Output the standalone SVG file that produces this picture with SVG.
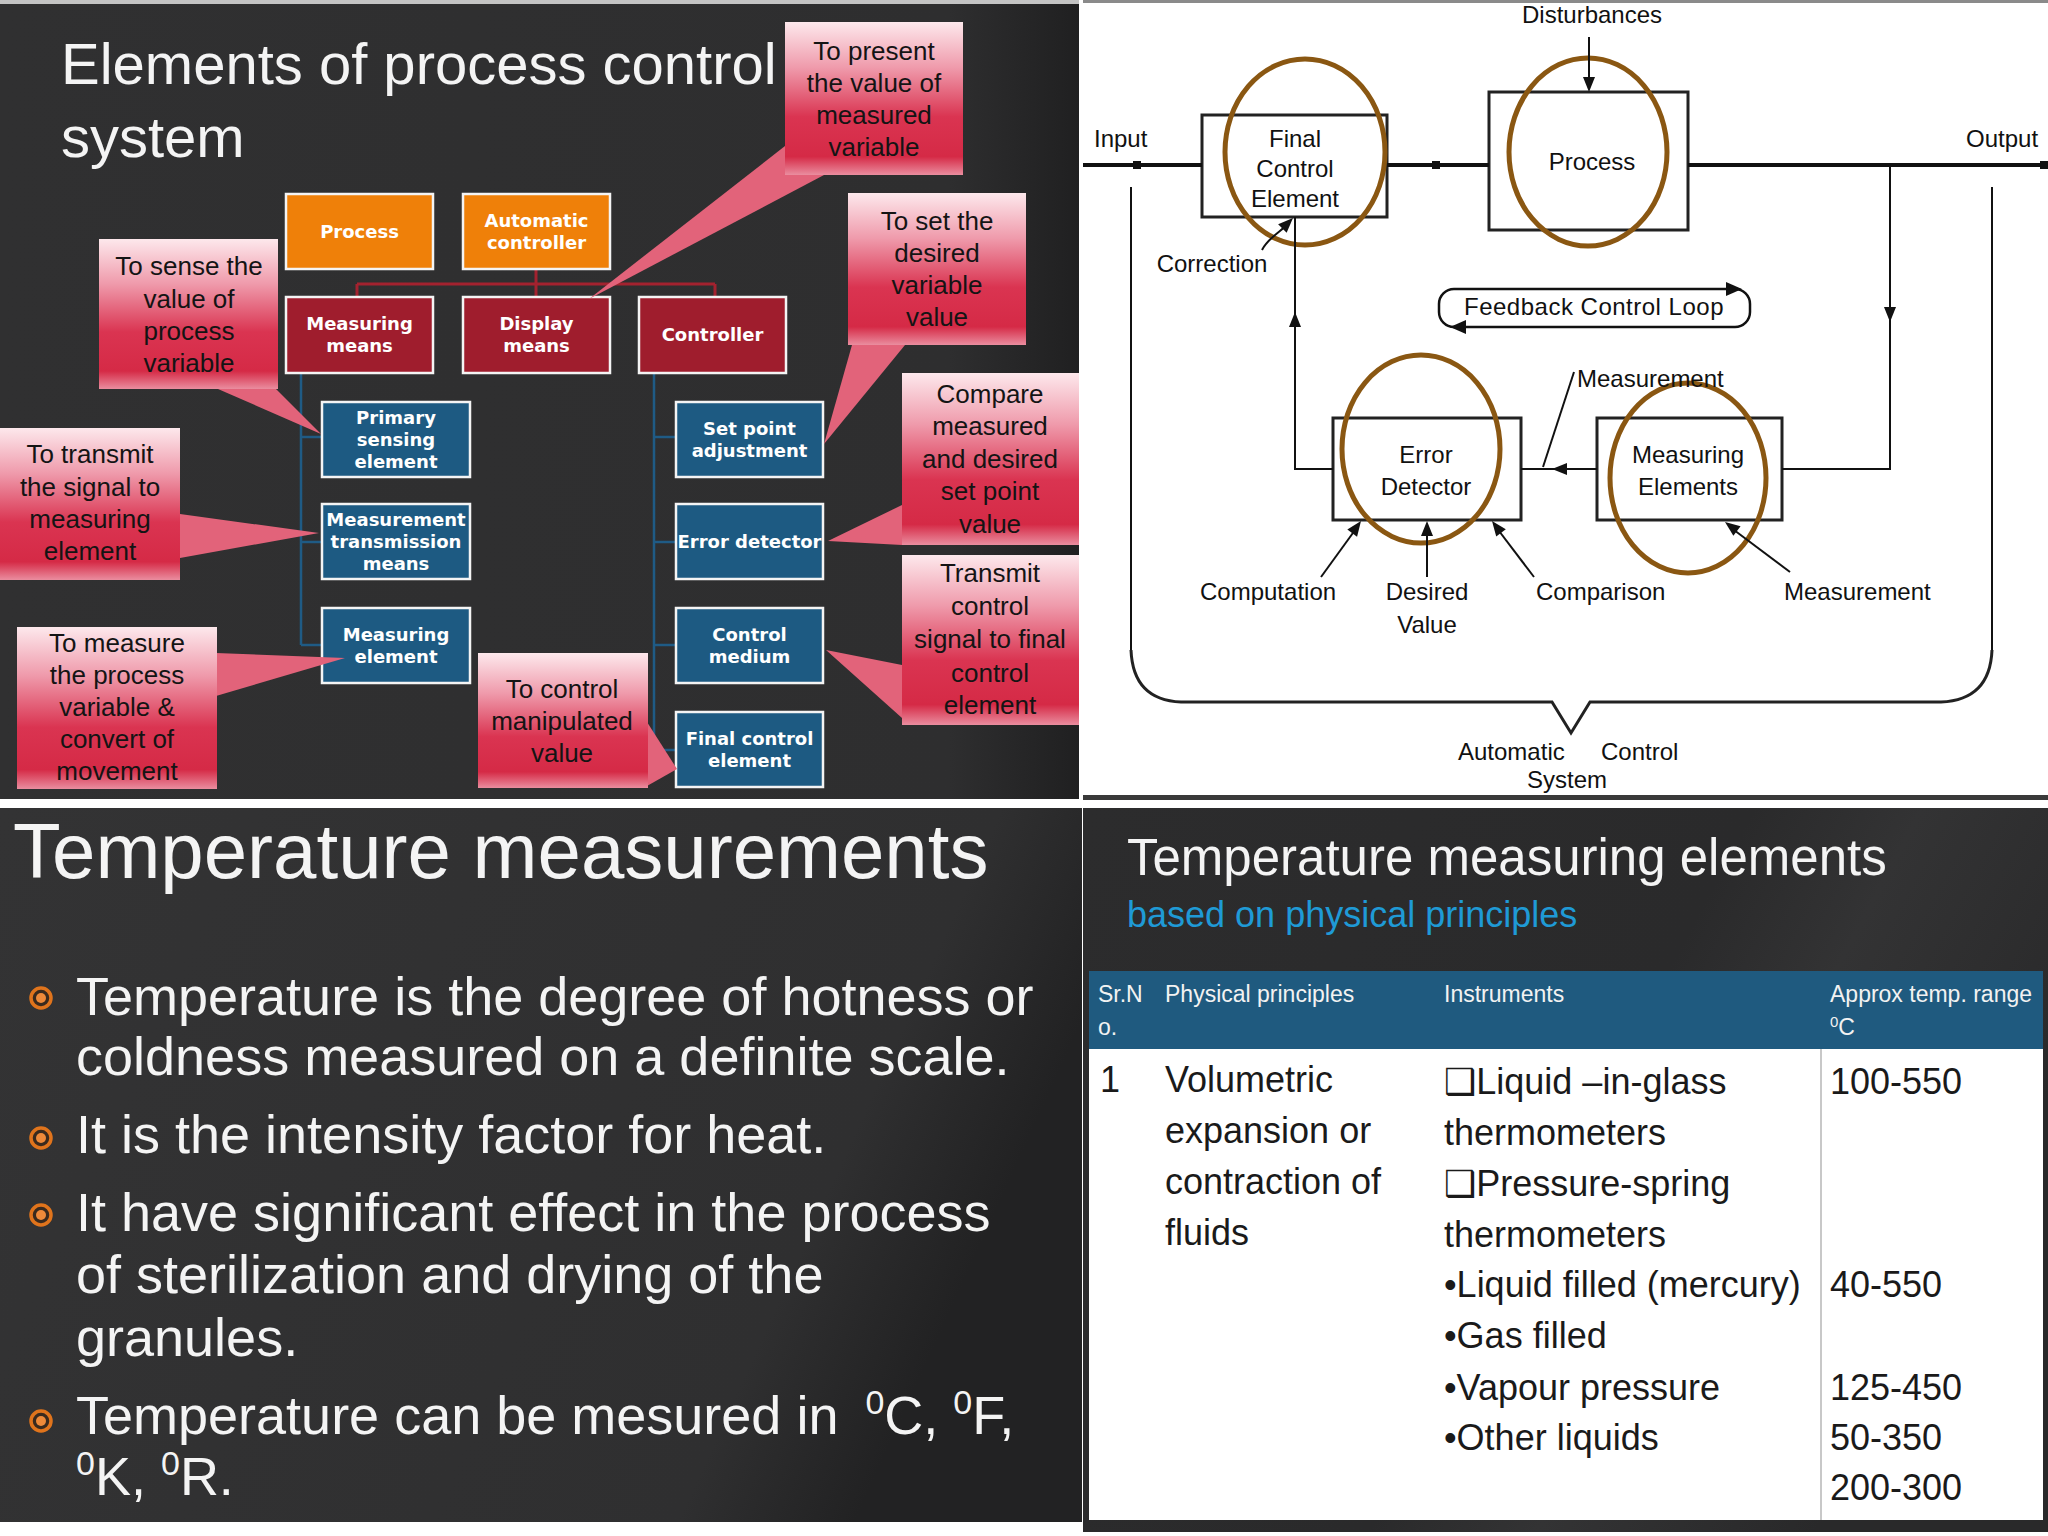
<svg xmlns="http://www.w3.org/2000/svg" xmlns:xlink="http://www.w3.org/1999/xlink" width="2048" height="1536" viewBox="0 0 2048 1536">
<defs>
<linearGradient id="tlbg" x1="0" y1="0" x2="1" y2="0">
<stop offset="0" stop-color="#303031"/><stop offset="0.88" stop-color="#2e2e2f"/><stop offset="1" stop-color="#202021"/>
</linearGradient>
<linearGradient id="blbg" x1="0" y1="0" x2="1" y2="0.3">
<stop offset="0" stop-color="#333334"/><stop offset="0.85" stop-color="#2f2f30"/><stop offset="1" stop-color="#222223"/>
</linearGradient>
<linearGradient id="brbg" x1="0" y1="0" x2="1" y2="0.4">
<stop offset="0" stop-color="#2c2c2d"/><stop offset="0.6" stop-color="#2a2a2b"/><stop offset="0.75" stop-color="#333334"/><stop offset="1" stop-color="#29292a"/>
</linearGradient>
<linearGradient id="cg" x1="0" y1="0" x2="0" y2="1">
<stop offset="0" stop-color="#fde8ec"/><stop offset="0.3" stop-color="#ef9aab"/><stop offset="0.62" stop-color="#da3451"/><stop offset="0.88" stop-color="#d52a46"/><stop offset="1" stop-color="#ea8d9f"/>
</linearGradient>
<path id="ah" d="M0,0 L-6,15 L6,15 Z" fill="#111"/>
<style>
.title{font-family:"Liberation Sans",Arial,sans-serif;fill:#f4f4f4}
.co{fill:url(#cg)}
.wedge{fill:#e2637a}
.cot{font-family:"Liberation Sans",Arial,sans-serif;font-size:26px;fill:#141414;text-anchor:middle}
.orange{fill:#ef8009;stroke:#f4f4f4;stroke-width:2.5}
.red{fill:#9f1d2d;stroke:#f4f4f4;stroke-width:2.5}
.blue{fill:#1d5a82;stroke:#f4f4f4;stroke-width:2.5}
.bt{font-family:"DejaVu Sans",Verdana,sans-serif;font-weight:bold;font-size:18px;fill:#ffffff;text-anchor:middle}
.rl{stroke:#a3222f;stroke-width:3;fill:none}
.bl{stroke:#1f5b85;stroke-width:2.5;fill:none}
.dbox{fill:none;stroke:#222;stroke-width:3}
.ell{fill:none;stroke:#8a5712;stroke-width:5}
.dl{stroke:#111;stroke-width:2;fill:none}
.ml{stroke:#111;stroke-width:4;fill:none}
.dt{font-family:"Liberation Sans",Arial,sans-serif;font-size:24px;fill:#111}
.mid{text-anchor:middle}
.bul{font-family:"Liberation Sans",Arial,sans-serif;font-size:54px;fill:#f4f4f4}
.th{font-family:"Liberation Sans",Arial,sans-serif;font-size:23px;fill:#f2f2f2}
.tb{font-family:"Liberation Sans","DejaVu Sans",Arial,sans-serif;font-size:36px;fill:#1a1a1a}
</style>
</defs>

<!-- page background -->
<rect x="0" y="0" width="2048" height="1536" fill="#ffffff"/>

<!-- ============ Panel 1: Elements of process control system ============ -->
<g id="panel-elements">
<rect x="0" y="0" width="1079" height="799" fill="url(#tlbg)"/>
<rect x="0" y="0" width="1079" height="4" fill="#c4c4c4"/>
<text class="title" x="61" y="84" font-size="58">Elements of process control</text>
<text class="title" x="61" y="157" font-size="58">system</text>
</g>

<g id="connectors-tree">
<line class="rl" x1="536" y1="269" x2="536" y2="297"/>
<line class="rl" x1="357" y1="284" x2="715" y2="284"/>
<line class="rl" x1="357" y1="284" x2="357" y2="297"/>
<line class="rl" x1="715" y1="284" x2="715" y2="297"/>
<line class="bl" x1="301" y1="373" x2="301" y2="645"/>
<line class="bl" x1="301" y1="437" x2="322" y2="437"/>
<line class="bl" x1="301" y1="542" x2="322" y2="542"/>
<line class="bl" x1="301" y1="645" x2="322" y2="645"/>
<line class="bl" x1="654" y1="373" x2="654" y2="750"/>
<line class="bl" x1="654" y1="437" x2="676" y2="437"/>
<line class="bl" x1="654" y1="542" x2="676" y2="542"/>
<line class="bl" x1="654" y1="645" x2="676" y2="645"/>
<line class="bl" x1="654" y1="750" x2="676" y2="750"/>
</g>

<g id="node-process"><rect class="orange" x="286" y="194" width="147" height="75"/><text class="bt" x="359.5" y="238">Process</text></g>
<g id="node-automatic-controller"><rect class="orange" x="463" y="194" width="147" height="75"/><text class="bt" x="536.5" y="227">Automatic</text><text class="bt" x="536.5" y="249">controller</text></g>
<g id="node-measuring-means"><rect class="red" x="286" y="297" width="147" height="76"/><text class="bt" x="359.5" y="330">Measuring</text><text class="bt" x="359.5" y="352">means</text></g>
<g id="node-display-means"><rect class="red" x="463" y="297" width="147" height="76"/><text class="bt" x="536.5" y="330">Display</text><text class="bt" x="536.5" y="352">means</text></g>
<g id="node-controller"><rect class="red" x="639" y="297" width="147" height="76"/><text class="bt" x="712.5" y="341">Controller</text></g>
<g id="node-primary-sensing"><rect class="blue" x="322" y="402" width="148" height="75"/><text class="bt" x="396" y="424">Primary</text><text class="bt" x="396" y="446">sensing</text><text class="bt" x="396" y="468">element</text></g>
<g id="node-measurement-transmission"><rect class="blue" x="322" y="504" width="148" height="75"/><text class="bt" x="396" y="526">Measurement</text><text class="bt" x="396" y="548">transmission</text><text class="bt" x="396" y="570">means</text></g>
<g id="node-measuring-element"><rect class="blue" x="322" y="608" width="148" height="75"/><text class="bt" x="396" y="641">Measuring</text><text class="bt" x="396" y="663">element</text></g>
<g id="node-set-point"><rect class="blue" x="676" y="402" width="147" height="75"/><text class="bt" x="749.5" y="435">Set point</text><text class="bt" x="749.5" y="457">adjustment</text></g>
<g id="node-error-detector"><rect class="blue" x="676" y="504" width="147" height="75"/><text class="bt" x="749.5" y="548">Error detector</text></g>
<g id="node-control-medium"><rect class="blue" x="676" y="608" width="147" height="75"/><text class="bt" x="749.5" y="641">Control</text><text class="bt" x="749.5" y="663">medium</text></g>
<g id="node-final-control-element"><rect class="blue" x="676" y="712" width="147" height="75"/><text class="bt" x="749.5" y="745">Final control</text><text class="bt" x="749.5" y="767">element</text></g>

<!-- callouts -->
<g id="callout-present">
<polygon class="wedge" points="785,146 824,175 589,299"/>
<rect class="co" x="785" y="22" width="178" height="153"/>
<text class="cot"><tspan x="874" y="60">To present</tspan><tspan x="874" y="92">the value of</tspan><tspan x="874" y="124">measured</tspan><tspan x="874" y="156">variable</tspan></text>
</g>
<g id="callout-set">
<polygon class="wedge" points="852,345 905,345 824,444"/>
<rect class="co" x="848" y="193" width="178" height="152"/>
<text class="cot"><tspan x="937" y="230">To set the</tspan><tspan x="937" y="262">desired</tspan><tspan x="937" y="294">variable</tspan><tspan x="937" y="326">value</tspan></text>
</g>
<g id="callout-compare">
<polygon class="wedge" points="902,505 902,545 828,541"/>
<rect class="co" x="902" y="373" width="177" height="172"/>
<text class="cot"><tspan x="990" y="403">Compare</tspan><tspan x="990" y="435">measured</tspan><tspan x="990" y="468">and desired</tspan><tspan x="990" y="500">set point</tspan><tspan x="990" y="533">value</tspan></text>
</g>
<g id="callout-transmit-control">
<polygon class="wedge" points="902,665 902,718 826,650"/>
<rect class="co" x="902" y="555" width="177" height="170"/>
<text class="cot"><tspan x="990" y="582">Transmit</tspan><tspan x="990" y="615">control</tspan><tspan x="990" y="648">signal to final</tspan><tspan x="990" y="682">control</tspan><tspan x="990" y="714">element</tspan></text>
</g>
<g id="callout-control-manipulated">
<polygon class="wedge" points="647,722 647,786 677,769"/>
<rect class="co" x="478" y="653" width="170" height="135"/>
<text class="cot"><tspan x="562" y="698">To control</tspan><tspan x="562" y="730">manipulated</tspan><tspan x="562" y="762">value</tspan></text>
</g>
<g id="callout-sense">
<polygon class="wedge" points="218,389 276,389 321,434"/>
<rect class="co" x="99" y="239" width="179" height="150"/>
<text class="cot"><tspan x="189" y="275">To sense the</tspan><tspan x="189" y="308">value of</tspan><tspan x="189" y="340">process</tspan><tspan x="189" y="372">variable</tspan></text>
</g>
<g id="callout-transmit-signal">
<polygon class="wedge" points="180,514 180,558 319,533"/>
<rect class="co" x="0" y="428" width="180" height="152"/>
<text class="cot"><tspan x="90" y="463">To transmit</tspan><tspan x="90" y="496">the signal to</tspan><tspan x="90" y="528">measuring</tspan><tspan x="90" y="560">element</tspan></text>
</g>
<g id="callout-measure">
<polygon class="wedge" points="216,653 216,696 345,658"/>
<rect class="co" x="17" y="627" width="200" height="162"/>
<text class="cot"><tspan x="117" y="652">To measure</tspan><tspan x="117" y="684">the process</tspan><tspan x="117" y="716">variable &amp;</tspan><tspan x="117" y="748">convert of</tspan><tspan x="117" y="780">movement</tspan></text>
</g>

<!-- ============ Panel 2: feedback control loop diagram ============ -->
<g id="panel-loop">
<rect x="1083" y="0" width="965" height="797" fill="#ffffff"/>
<rect x="1083" y="0" width="965" height="3" fill="#8a8a8a"/>
<rect x="1083" y="795" width="965" height="5" fill="#3a3a3a"/>
</g>

<g id="node-final-control">
<rect class="dbox" x="1202" y="115" width="185" height="102"/>
<text class="dt mid" x="1295" y="147">Final</text>
<text class="dt mid" x="1295" y="177">Control</text>
<text class="dt mid" x="1295" y="207">Element</text>
<ellipse class="ell" cx="1305" cy="152" rx="80" ry="93"/>
</g>
<g id="node-process-block">
<rect class="dbox" x="1489" y="92" width="199" height="138"/>
<text class="dt mid" x="1592" y="170">Process</text>
<ellipse class="ell" cx="1588" cy="152" rx="79" ry="94"/>
</g>
<g id="node-error-detector-block">
<rect class="dbox" x="1333" y="418" width="188" height="102"/>
<text class="dt mid" x="1426" y="463">Error</text>
<text class="dt mid" x="1426" y="495">Detector</text>
<ellipse class="ell" cx="1421" cy="449" rx="79" ry="94"/>
</g>
<g id="node-measuring-elements-block">
<rect class="dbox" x="1597" y="418" width="185" height="102"/>
<text class="dt mid" x="1688" y="463">Measuring</text>
<text class="dt mid" x="1688" y="495">Elements</text>
<ellipse class="ell" cx="1688" cy="478" rx="78" ry="95"/>
</g>
<g id="node-feedback-loop-label">
<rect x="1439" y="289" width="311" height="38" rx="15" fill="none" stroke="#111" stroke-width="2.5"/>
<polygon points="1742,289 1726,282 1726,296" fill="#111"/>
<polygon points="1450,327 1466,320 1466,334" fill="#111"/>
<text class="dt mid" x="1594" y="315" letter-spacing="0.5">Feedback Control Loop</text>
</g>

<g id="connectors-loop">
<line class="ml" x1="1083" y1="165" x2="1202" y2="165"/>
<line class="ml" x1="1387" y1="165" x2="1489" y2="165"/>
<line class="ml" x1="1688" y1="165" x2="2048" y2="165"/>
<rect x="1133" y="161" width="8" height="8" fill="#111"/>
<rect x="1432" y="161" width="8" height="8" fill="#111"/>
<rect x="2040" y="161" width="8" height="8" fill="#111"/>
<line class="dl" x1="1589" y1="37" x2="1589" y2="80"/>
<use xlink:href="#ah" transform="translate(1589,92) rotate(180)"/>
<polyline class="dl" points="1295,217 1295,469 1333,469"/>
<use xlink:href="#ah" transform="translate(1295,312)"/>
<polyline class="dl" points="1890,165 1890,469 1782,469"/>
<use xlink:href="#ah" transform="translate(1890,322) rotate(180)"/>
<line class="dl" x1="1597" y1="469" x2="1521" y2="469"/>
<use xlink:href="#ah" transform="translate(1552,469) rotate(-90)"/>
<line class="dl" x1="1574" y1="372" x2="1543" y2="467"/>
<path class="dl" d="M1262,250 C1268,238 1280,232 1288,224"/>
<use xlink:href="#ah" transform="translate(1293,218) rotate(45)"/>
<line class="dl" x1="1321" y1="577" x2="1358" y2="526"/>
<use xlink:href="#ah" transform="translate(1361,521) rotate(36)"/>
<line class="dl" x1="1427" y1="577" x2="1427" y2="528"/>
<use xlink:href="#ah" transform="translate(1427,521)"/>
<line class="dl" x1="1534" y1="577" x2="1496" y2="527"/>
<use xlink:href="#ah" transform="translate(1492,521) rotate(-37)"/>
<line class="dl" x1="1790" y1="572" x2="1730" y2="527"/>
<use xlink:href="#ah" transform="translate(1725,522) rotate(-53)"/>
<line class="dl" x1="1131" y1="187" x2="1131" y2="650"/>
<line class="dl" x1="1992" y1="187" x2="1992" y2="650"/>
<path d="M1131,650 Q1133,700 1181,702 L1552,702 L1571,733 L1590,702 L1941,702 Q1990,700 1992,650" fill="none" stroke="#222" stroke-width="3"/>
</g>

<g id="loop-labels">
<text class="dt mid" x="1592" y="23">Disturbances</text>
<text class="dt" x="1094" y="147">Input</text>
<text class="dt" x="1966" y="147">Output</text>
<text class="dt mid" x="1212" y="272">Correction</text>
<text class="dt" x="1577" y="387">Measurement</text>
<text class="dt" x="1200" y="600">Computation</text>
<text class="dt mid" x="1427" y="600">Desired</text>
<text class="dt mid" x="1427" y="633">Value</text>
<text class="dt" x="1536" y="600">Comparison</text>
<text class="dt" x="1784" y="600">Measurement</text>
<text class="dt"><tspan x="1458" y="760">Automatic</tspan><tspan x="1601" y="760">Control</tspan></text>
<text class="dt mid" x="1567" y="788">System</text>
</g>

<!-- ============ Panel 3: Temperature measurements ============ -->
<g id="panel-temperature">
<rect x="0" y="808" width="1082" height="714" fill="url(#blbg)"/>
<text class="title" x="13" y="878" font-size="78">Temperature measurements</text>
<g id="bullets">
<circle cx="41" cy="998" r="10" fill="#3a2a1e" stroke="#e0741c" stroke-width="3.5"/><circle cx="41" cy="998" r="5" fill="#ee8a3a"/>
<circle cx="41" cy="1138" r="10" fill="#3a2a1e" stroke="#e0741c" stroke-width="3.5"/><circle cx="41" cy="1138" r="5" fill="#ee8a3a"/>
<circle cx="41" cy="1215" r="10" fill="#3a2a1e" stroke="#e0741c" stroke-width="3.5"/><circle cx="41" cy="1215" r="5" fill="#ee8a3a"/>
<circle cx="41" cy="1421" r="10" fill="#3a2a1e" stroke="#e0741c" stroke-width="3.5"/><circle cx="41" cy="1421" r="5" fill="#ee8a3a"/>
</g>
<text class="bul" x="76" y="1015">Temperature is the degree of hotness or</text>
<text class="bul" x="76" y="1075">coldness measured on a definite scale.</text>
<text class="bul" x="76" y="1153">It is the intensity factor for heat.</text>
<text class="bul" x="76" y="1231">It have significant effect in the process</text>
<text class="bul" x="76" y="1293">of sterilization and drying of the</text>
<text class="bul" x="76" y="1356">granules.</text>
<text class="bul" x="76" y="1434">Temperature can be mesured in <tspan dx="12" dy="-20" font-size="34">0</tspan><tspan dy="20">C, </tspan><tspan dy="-20" font-size="34">0</tspan><tspan dy="20">F,</tspan></text>
<text class="bul" x="76" y="1495"><tspan dy="-20" font-size="34">0</tspan><tspan dy="20">K, </tspan><tspan dy="-20" font-size="34">0</tspan><tspan dy="20">R.</tspan></text>
</g>

<!-- ============ Panel 4: Temperature measuring elements ============ -->
<g id="panel-table">
<rect x="1083" y="808" width="965" height="724" fill="url(#brbg)"/>
<text class="title" x="1127" y="875" font-size="51">Temperature measuring elements</text>
<text x="1127" y="927" font-family="Liberation Sans, Arial, sans-serif" font-size="36" fill="#1f9ad6">based on physical principles</text>
<rect x="1089" y="971" width="954" height="78" fill="#1f5a7f"/>
<rect x="1089" y="1049" width="954" height="471" fill="#ffffff"/>
<line x1="1821" y1="1049" x2="1821" y2="1520" stroke="#c8c8c8" stroke-width="2"/>
<text class="th" x="1098" y="1002">Sr.N</text>
<text class="th" x="1098" y="1035">o.</text>
<text class="th" x="1165" y="1002">Physical principles</text>
<text class="th" x="1444" y="1002">Instruments</text>
<text class="th" x="1830" y="1002">Approx temp. range</text>
<text class="th" x="1830" y="1035"><tspan dy="-8" font-size="15">0</tspan><tspan dy="8">C</tspan></text>
<text class="tb" x="1100" y="1092">1</text>
<text class="tb" x="1165" y="1092">Volumetric</text>
<text class="tb" x="1165" y="1143">expansion or</text>
<text class="tb" x="1165" y="1194">contraction of</text>
<text class="tb" x="1165" y="1245">fluids</text>
<text class="tb" x="1444" y="1094">❑Liquid –in-glass</text>
<text class="tb" x="1444" y="1145">thermometers</text>
<text class="tb" x="1444" y="1196">❑Pressure-spring</text>
<text class="tb" x="1444" y="1247">thermometers</text>
<text class="tb" x="1444" y="1297">•Liquid filled (mercury)</text>
<text class="tb" x="1444" y="1348">•Gas filled</text>
<text class="tb" x="1444" y="1400">•Vapour pressure</text>
<text class="tb" x="1444" y="1450">•Other liquids</text>
<text class="tb" x="1830" y="1094">100-550</text>
<text class="tb" x="1830" y="1297">40-550</text>
<text class="tb" x="1830" y="1400">125-450</text>
<text class="tb" x="1830" y="1450">50-350</text>
<text class="tb" x="1830" y="1500">200-300</text>
</g>
</svg>
